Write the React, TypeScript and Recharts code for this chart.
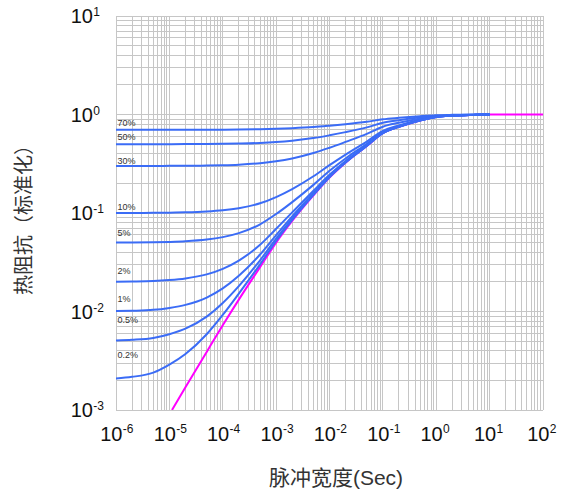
import React from 'react';
import { LineChart, Line, XAxis, YAxis, CartesianGrid, Label } from 'recharts';

// Pulse widths (s) at which the duty-cycle curves were read
const pulseWidth = [1e-6, 2e-6, 5e-6, 1e-5, 2e-5, 5e-5, 1e-4, 2e-4, 5e-4, 1e-3, 2e-3, 5e-3, 1e-2, 2e-2, 5e-2, 0.1, 0.2, 0.5, 1, 2, 5, 10];

const duty70 = [0.7, 0.7, 0.7, 0.7, 0.701, 0.701, 0.702, 0.704, 0.708, 0.715, 0.725, 0.745, 0.769, 0.797, 0.844, 0.894, 0.925, 0.961, 0.983, 0.992, 0.997, 1.0];
const duty50 = [0.5, 0.5, 0.5, 0.5, 0.501, 0.502, 0.504, 0.507, 0.514, 0.525, 0.542, 0.576, 0.615, 0.662, 0.74, 0.823, 0.875, 0.936, 0.972, 0.987, 0.996, 1.0];
const duty30 = [0.3, 0.3, 0.3, 0.301, 0.301, 0.303, 0.305, 0.309, 0.32, 0.335, 0.358, 0.406, 0.46, 0.527, 0.635, 0.752, 0.825, 0.91, 0.961, 0.981, 0.994, 1.0];
const duty10 = [0.1001, 0.1002, 0.1004, 0.1008, 0.1015, 0.1035, 0.1065, 0.1119, 0.1254, 0.1451, 0.1749, 0.236, 0.306, 0.392, 0.531, 0.681, 0.775, 0.884, 0.95, 0.976, 0.992, 1.0];
const duty5 = [0.05008, 0.05016, 0.05038, 0.05085, 0.05162, 0.0537, 0.0569, 0.0625, 0.0768, 0.0976, 0.129, 0.193, 0.268, 0.358, 0.505, 0.664, 0.763, 0.877, 0.947, 0.974, 0.991, 1.0];
const duty2 = [0.02009, 0.02017, 0.02039, 0.02087, 0.02167, 0.02381, 0.0271, 0.0329, 0.0476, 0.0691, 0.1015, 0.168, 0.244, 0.338, 0.489, 0.653, 0.755, 0.874, 0.945, 0.974, 0.991, 1.0];
const duty1 = [0.01009, 0.01017, 0.01039, 0.01088, 0.01168, 0.01385, 0.01717, 0.0231, 0.0379, 0.0596, 0.0924, 0.159, 0.237, 0.331, 0.484, 0.65, 0.753, 0.872, 0.944, 0.973, 0.991, 1.0];
const duty05 = [0.005089, 0.005169, 0.005396, 0.005887, 0.006692, 0.00887, 0.0122, 0.0181, 0.0331, 0.0548, 0.0878, 0.155, 0.233, 0.327, 0.482, 0.648, 0.751, 0.872, 0.944, 0.973, 0.991, 1.0];
const duty02 = [0.002089, 0.00217, 0.002397, 0.00289, 0.0037, 0.00588, 0.00923, 0.0152, 0.0301, 0.052, 0.085, 0.153, 0.231, 0.325, 0.48, 0.647, 0.75, 0.871, 0.944, 0.973, 0.991, 1.0];

// Single pulse curve (magenta)
const singlePulseX = [1.12e-5, 2e-5, 5e-5, 1e-4, 2e-4, 5e-4, 1e-3, 2e-3, 5e-3, 1e-2, 2e-2, 5e-2, 0.1, 0.2, 0.5, 1, 2, 5, 10, 100];
const singlePulseY = [0.001, 0.0017, 0.00389, 0.00724, 0.0132, 0.0282, 0.0501, 0.0832, 0.151, 0.229, 0.324, 0.479, 0.646, 0.75, 0.871, 0.944, 0.973, 0.991, 1.0, 1.0];

const dutyLabels = ['70%', '50%', '30%', '10%', '5%', '2%', '1%', '0.5%', '0.2%'];
const dutyValues = [duty70, duty50, duty30, duty10, duty5, duty2, duty1, duty05, duty02];

// Axis ticks
const xDecades = [1e-6, 1e-5, 1e-4, 1e-3, 1e-2, 1e-1, 1, 10, 100];
const yDecades = [1e-3, 1e-2, 1e-1, 1, 10];
const minorSteps = [2, 3, 4, 5, 6, 7, 8, 9];

const buildTicks = (decades: number[]) => {
  const t: number[] = [];
  decades.forEach((d, i) => {
    t.push(d);
    if (i < decades.length - 1) minorSteps.forEach((m) => t.push(m * d));
  });
  return t;
};
const xTicks = buildTicks(xDecades);
const yTicks = buildTicks(yDecades);

const xTitle = '脉冲宽度(Sec)';
const yTitle = '热阻抗（标准化）';

// styles
const labelDy = [-3.4, -3.8, -2.5, -2.8, -6.2, -7.8, -9.4, -17.5, -20.8];
const FONT = '"Liberation Sans", Arial, sans-serif';
const CJK = '"Liberation Sans", "Noto Sans CJK SC", sans-serif';

const decadeExp = (v: number): number | null => {
  const l = Math.log10(v);
  const e = Math.round(l);
  return Math.abs(l - e) < 1e-6 ? e : null;
};

const XTick = (props: any) => {
  const { x, y, payload } = props;
  const e = decadeExp(payload.value);
  if (e === null) return <g />;
  return (
    <g>
      <text x={x + 6.5} y={y + 31} textAnchor="end" fontSize={20} fill="#111" fontFamily={FONT}>10</text>
      <text x={x + 6.8} y={y + 23} textAnchor="start" fontSize={12} fill="#111" fontFamily={FONT}>{String(e)}</text>
    </g>
  );
};

const YTick = (props: any) => {
  const { x, y, payload } = props;
  const e = decadeExp(payload.value);
  if (e === null) return <g />;
  return (
    <g>
      <text x={x - 23} y={y + 7} textAnchor="end" fontSize={20} fill="#111" fontFamily={FONT}>10</text>
      <text x={x - 22.7} y={y + 0} textAnchor="start" fontSize={12} fill="#111" fontFamily={FONT}>{String(e)}</text>
    </g>
  );
};

const XTitle = (props: any) => {
  const vb = props.viewBox;
  return (
    <text x={vb.x + vb.width / 2 + 6.5} y={vb.y + 67} textAnchor="middle" dominantBaseline="central" fontSize={21} fill="#333" fontFamily={CJK}>
      {xTitle}
    </text>
  );
};

const YTitle = (props: any) => {
  const vb = props.viewBox;
  const cx = vb.x + 8;
  const cy = vb.y + vb.height / 2 + 2;
  return (
    <text x={cx} y={cy} transform={`rotate(-90, ${cx}, ${cy})`} textAnchor="middle" dominantBaseline="central" fontSize={20} fill="#333" fontFamily={CJK}>
      {yTitle}
    </text>
  );
};

const singleData = singlePulseX.map((x, i) => ({ x, y: singlePulseY[i] }));
const dutyData = dutyValues.map((arr) => pulseWidth.map((x, i) => ({ x, y: arr[i] })));

export default function App() {
  return (
    <div style={{ position: 'absolute', left: 0, top: 0, background: '#fff' }}>
      <style>{`.recharts-cartesian-grid line { shape-rendering: crispEdges; }`}</style>
      <LineChart width={566} height={496} margin={{ top: 16, right: 23, left: 16, bottom: 0 }}>
        <CartesianGrid stroke="#c6c6c6" strokeWidth={1} />
        <XAxis
          dataKey="x"
          type="number"
          scale="log"
          domain={[1e-6, 100]}
          ticks={xTicks}
          interval={0}
          tick={<XTick />}
          tickLine={false}
          axisLine={false}
          tickSize={0}
          tickMargin={0}
          height={86}
          allowDataOverflow
        >
          <Label content={<XTitle />} />
        </XAxis>
        <YAxis
          type="number"
          scale="log"
          domain={[1e-3, 10]}
          ticks={yTicks}
          interval={0}
          tick={<YTick />}
          tickLine={false}
          axisLine={false}
          tickSize={0}
          tickMargin={0}
          width={100}
          allowDataOverflow
        >
          <Label content={<YTitle />} />
        </YAxis>
        <Line
          data={singleData}
          dataKey="y"
          type="monotone"
          stroke="#ff00ff"
          strokeWidth={2}
          dot={false}
          activeDot={false}
          isAnimationActive={false}
        />
        {dutyData.map((d, k) => (
          <Line
            key={dutyLabels[k]}
            data={d}
            dataKey="y"
            type="monotone"
            stroke="#3b6cf6"
            strokeWidth={2}
            dot={false}
            activeDot={false}
            isAnimationActive={false}
            label={(p: any) =>
              p.index === 0 ? (
                <text x={p.x + 1.5} y={p.y + labelDy[k]} fontSize={9} fill="#333" fontFamily={FONT}>
                  {dutyLabels[k]}
                </text>
              ) : (
                <g />
              )
            }
          />
        ))}
      </LineChart>
    </div>
  );
}
